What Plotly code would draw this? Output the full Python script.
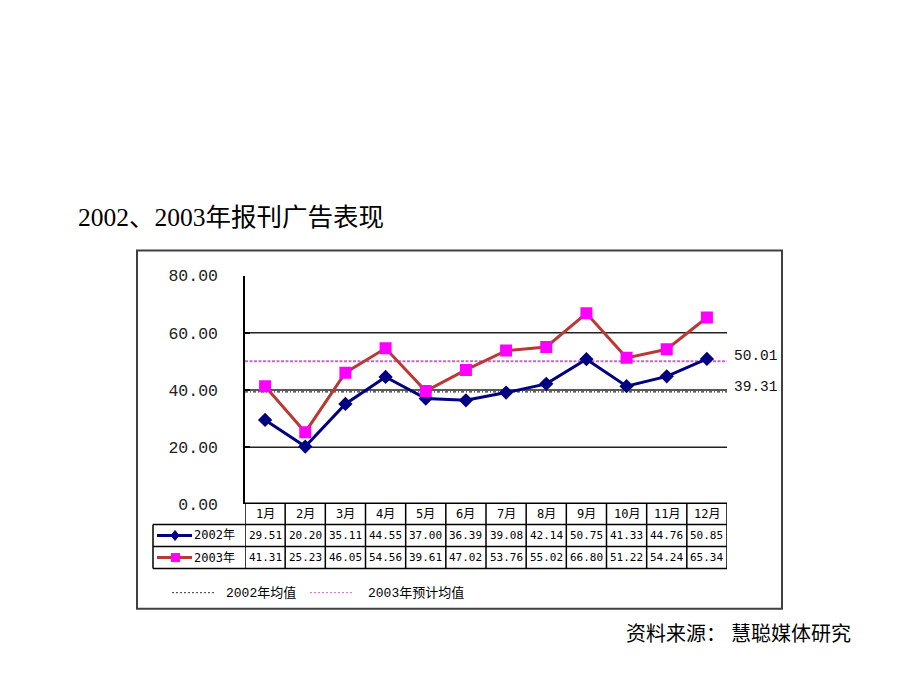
import plotly.graph_objects as go

# ---------------- data ----------------
months = ["1月", "2月", "3月", "4月", "5月", "6月", "7月", "8月", "9月", "10月", "11月", "12月"]
series_names = ["2002年", "2003年"]
values_2002 = [29.51, 20.20, 35.11, 44.55, 37.00, 36.39, 39.08, 42.14, 50.75, 41.33, 44.76, 50.85]
values_2003 = [41.31, 25.23, 46.05, 54.56, 39.61, 47.02, 53.76, 55.02, 66.80, 51.22, 54.24, 65.34]
mean_values = [39.31, 50.01]
mean_names = ["2002年均值", "2003年预计均值"]
y_ticks = [0, 20, 40, 60, 80]
grid_values = [20, 40, 60]
title_text = "2002、2003年报刊广告表现"
source_text = "资料来源： 慧聪媒体研究"

# ---------------- layout helpers ----------------
W, H = 920, 690
VA, VB = 0.969, 8.4   # observed vertical mapping of the page

def px(x):
    return x / W

def py(y):
    return 1 - ((y - VB) / VA) / H

xs = list(range(1, len(months) + 1))
c2002 = "#000080"
c2003_line = "#B83A36"
c2003_mark = "#FF00FF"
c_mean2003 = "#CC66CC"
mono = "Liberation Mono, Noto Sans CJK SC"
tmono = "DejaVu Sans Mono, Noto Sans CJK SC"

fig = go.Figure()
fig.add_trace(go.Scatter(x=xs, y=values_2002, mode="lines+markers", name=series_names[0],
                         line=dict(color=c2002, width=3),
                         marker=dict(symbol="diamond", size=11, color=c2002)))
fig.add_trace(go.Scatter(x=xs, y=values_2003, mode="lines+markers", name=series_names[1],
                         line=dict(color=c2003_line, width=3),
                         marker=dict(symbol="square", size=12, color=c2003_mark)))

shapes = []
annotations = []

# outer frame
shapes.append(dict(type="rect", xref="paper", yref="paper", x0=px(137), x1=px(782), y0=py(607), y1=py(250),
                   line=dict(color="#404040", width=2), layer="below"))

# gridlines
for g in grid_values:
    shapes.append(dict(type="line", xref="x", yref="y", x0=0.5, x1=len(months) + 0.5, y0=g, y1=g,
                       line=dict(color="#222222", width=1.5), layer="below"))

# mean lines
mean_styles = [dict(color="#333333", width=1.2, dash="3px,2px,1px,2px"),
               dict(color=c_mean2003, width=2, dash="3px,1.5px")]
for m, st in zip(mean_values, mean_styles):
    shapes.append(dict(type="line", xref="x", yref="y", x0=0.5, x1=len(months) + 0.5, y0=m, y1=m,
                       line=st, layer="below"))
    annotations.append(dict(x=px(732), xref="paper", y=m, yref="y", text=f"{m:.2f}", showarrow=False,
                            xanchor="left", yanchor="middle", yshift=5,
                            font=dict(family=mono, size=14.5, color="#111111")))

# data table
row_lines = [502, 523, 545, 567]
tcol = dict(color="#000000", width=1.5)
shapes.append(dict(type="line", xref="paper", yref="paper", x0=px(245), x1=px(727), y0=py(502), y1=py(502), line=tcol))
for r in row_lines[1:]:
    shapes.append(dict(type="line", xref="paper", yref="paper", x0=px(153), x1=px(727), y0=py(r), y1=py(r), line=tcol))
for i in range(len(months) + 1):
    shapes.append(dict(type="line", xref="x", yref="paper", x0=i + 0.5, x1=i + 0.5, y0=py(502), y1=py(567), line=tcol))
shapes.append(dict(type="line", xref="paper", yref="paper", x0=px(153), x1=px(153), y0=py(523), y1=py(567), line=tcol))

row_centers = [512.5, 534, 556]
for i, m in enumerate(months):
    annotations.append(dict(x=xs[i], xref="x", y=py(row_centers[0]), yref="paper", text=m, showarrow=False,
                            xanchor="center", yanchor="middle",
                            font=dict(family=tmono, size=12, color="#000000")))
for row, vals in zip(row_centers[1:], [values_2002, values_2003]):
    for i, v in enumerate(vals):
        annotations.append(dict(x=xs[i], xref="x", y=py(row), yref="paper", text=f"{v:.2f}", showarrow=False,
                                xanchor="center", yanchor="middle",
                                font=dict(family=tmono, size=11, color="#000000")))

# row labels with series symbols
for row, name, lc, mc, sym in [(534, series_names[0], c2002, c2002, "diamond"),
                               (556, series_names[1], c2003_line, c2003_mark, "square")]:
    shapes.append(dict(type="line", xref="paper", yref="paper", x0=px(157), x1=px(192), y0=py(row), y1=py(row),
                       line=dict(color=lc, width=3)))
    if sym == "diamond":
        shapes.append(dict(type="path", xref="paper", yref="paper",
                           path=f"M {px(175)} {py(row-5)} L {px(179)} {py(row)} L {px(175)} {py(row+5)} L {px(171)} {py(row)} Z",
                           fillcolor=mc, line=dict(color=mc, width=1)))
    else:
        shapes.append(dict(type="rect", xref="paper", yref="paper", x0=px(171), x1=px(180), y0=py(row + 4.5), y1=py(row - 4.5),
                           fillcolor=mc, line=dict(color=mc, width=0)))
    annotations.append(dict(x=px(192), xref="paper", y=py(row), yref="paper", text=name, showarrow=False,
                            xanchor="left", yanchor="middle", font=dict(family=tmono, size=12, color="#000000")))

# mean legend
for (lx0, lx1, tx), name, st in zip([(172, 214, 224), (310, 354, 366)], mean_names,
                                    [dict(color="#333333", width=1, dash="2px,2px"),
                                     dict(color=c_mean2003, width=1, dash="2px,2px")]):
    shapes.append(dict(type="line", xref="paper", yref="paper", x0=px(lx0), x1=px(lx1), y0=py(591), y1=py(591), line=st))
    annotations.append(dict(x=px(tx), xref="paper", y=py(591), yref="paper", text=name, showarrow=False,
                            xanchor="left", yanchor="middle", font=dict(family=mono, size=13, color="#000000")))

# title and source
annotations.append(dict(x=px(76), xref="paper", y=py(217), yref="paper", text=title_text, showarrow=False,
                        xanchor="left", yanchor="middle",
                        font=dict(family="Liberation Serif, Noto Sans CJK SC", size=25.5, color="#000000")))
annotations.append(dict(x=px(624), xref="paper", y=py(632), yref="paper", text=source_text, showarrow=False,
                        xanchor="left", yanchor="middle",
                        font=dict(family="Liberation Serif, Noto Sans CJK SC", size=20, color="#000000")))

fig.update_layout(
    width=W, height=H, margin=dict(l=0, r=0, t=0, b=0),
    paper_bgcolor="white", plot_bgcolor="white", showlegend=False,
    xaxis=dict(domain=[px(245), px(727)], range=[0.5, len(months) + 0.5], showticklabels=False,
               showgrid=False, zeroline=False, showline=False, ticks=""),
    yaxis=dict(domain=[py(503), py(275)], range=[0, 80], tickvals=y_ticks,
               ticktext=[f"{t:.2f}" for t in y_ticks], showgrid=False, zeroline=False,
               showline=True, linecolor="#000000", linewidth=1.5,
               ticks="inside", ticklen=5, tickcolor="#000000", tickwidth=1.5,
               ticklabelstandoff=22,
               tickfont=dict(family=mono, size=16.5, color="#222222")),
    shapes=shapes, annotations=annotations,
)

fig.write_html("out.html")
